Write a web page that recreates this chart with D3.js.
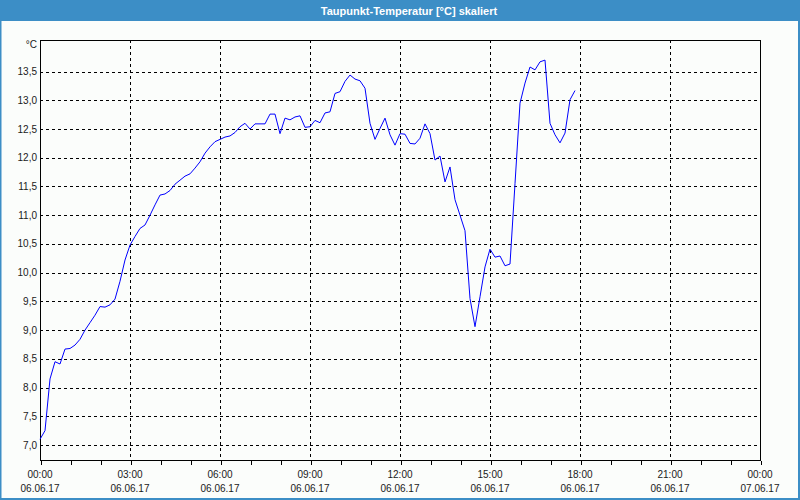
<!DOCTYPE html>
<html>
<head>
<meta charset="utf-8">
<script src="https://cdn.jsdelivr.net/npm/d3@7"></script>
<style>
  html, body { margin: 0; padding: 0; background: #fbfdfb; }
  svg { display: block; }
  text { font-family: "Liberation Sans", Arial, sans-serif; }
</style>
</head>
<body>
<svg id="chart" width="800" height="500"></svg>
<script>
// ---- data ----
const title = "Taupunkt-Temperatur [°C] skaliert";
const unitLabel = "°C";
const startTime = "2017-06-06T00:00:00Z";
const endTime = "2017-06-07T00:00:00Z";
const intervalMinutes = 10;
// dew point values, one every 10 minutes from 00:00
const dewPoint = [
  7.10, 7.25, 8.15, 8.45, 8.41, 8.67, 8.68, 8.74, 8.84, 9.00,
  9.13, 9.26, 9.41, 9.40, 9.44, 9.54, 9.85, 10.22, 10.48, 10.63,
  10.77, 10.83, 11.00, 11.18, 11.35, 11.37, 11.43, 11.54, 11.61, 11.68,
  11.72, 11.82, 11.93, 12.08, 12.19, 12.28, 12.32, 12.36, 12.38, 12.44,
  12.54, 12.60, 12.50, 12.59, 12.59, 12.59, 12.76, 12.76, 12.42, 12.69,
  12.66, 12.71, 12.73, 12.53, 12.54, 12.65, 12.61, 12.78, 12.80, 13.12,
  13.15, 13.33, 13.44, 13.37, 13.34, 13.21, 12.60, 12.32, 12.51, 12.69,
  12.40, 12.22, 12.42, 12.41, 12.25, 12.24, 12.34, 12.59, 12.42, 11.96,
  12.03, 11.58, 11.84, 11.27, 11.00, 10.73, 9.55, 9.06, 9.58, 10.10,
  10.41, 10.27, 10.29, 10.12, 10.15, 11.55, 12.95, 13.30, 13.58, 13.53,
  13.67, 13.70, 12.60, 12.40, 12.26, 12.43, 13.01, 13.17
];
const yTicks = [7.0, 7.5, 8.0, 8.5, 9.0, 9.5, 10.0, 10.5, 11.0, 11.5, 12.0, 12.5, 13.0, 13.5];
const yDomain = [6.739, 14.05];

// ---- layout ----
const svg = d3.select("#chart");
const W = 800, H = 500;
const plot = { left: 40, top: 40, right: 760, bottom: 460 };
const barColor = "#3c8ec6";

svg.append("rect").attr("x", 0).attr("y", 0).attr("width", W).attr("height", H).attr("fill", "#fbfdfb");
// frame borders
svg.append("rect").attr("x", 0).attr("y", 0).attr("width", W).attr("height", 21).attr("fill", barColor);
svg.append("rect").attr("x", 0).attr("y", 0).attr("width", 1.5).attr("height", H).attr("fill", barColor);
svg.append("rect").attr("x", 798).attr("y", 0).attr("width", 2).attr("height", H).attr("fill", barColor);
svg.append("rect").attr("x", 0).attr("y", 498).attr("width", W).attr("height", 2).attr("fill", barColor);

svg.append("text").attr("x", 409).attr("y", 14.5).attr("text-anchor", "middle")
  .attr("fill", "#ffffff").attr("font-weight", "bold").attr("font-size", "11px").text(title);

const parse = d3.isoParse;
const t0 = parse(startTime);
const data = dewPoint.map((v, i) => ({ t: new Date(t0.getTime() + i * intervalMinutes * 60000), v }));

const x = d3.scaleUtc().domain([parse(startTime), parse(endTime)]).range([plot.left, plot.right]);
const y = d3.scaleLinear().domain(yDomain).range([plot.bottom, plot.top]);

// grid
const gGrid = svg.append("g").attr("stroke", "#000").attr("stroke-width", 1)
  .attr("stroke-dasharray", "3,3").attr("shape-rendering", "crispEdges");
yTicks.forEach(v => {
  const yy = Math.round(y(v)) + 0.5;
  gGrid.append("line").attr("x1", plot.left).attr("x2", plot.right).attr("y1", yy).attr("y2", yy);
});
const majorTicks = x.ticks(d3.utcHour.every(3));
majorTicks.forEach(d => {
  const xx = Math.round(x(d)) + 0.5;
  if (xx > plot.left + 1 && xx < plot.right - 1)
    gGrid.append("line").attr("x1", xx).attr("x2", xx).attr("y1", plot.top).attr("y2", plot.bottom);
});

// frame
svg.append("rect").attr("x", plot.left + 0.5).attr("y", plot.top + 0.5)
  .attr("width", plot.right - plot.left).attr("height", plot.bottom - plot.top)
  .attr("fill", "none").attr("stroke", "#000").attr("stroke-width", 1).attr("shape-rendering", "crispEdges");

// x axis
const fmtTime = d3.utcFormat("%H:%M");
const fmtDate = d3.utcFormat("%d.%m.%y");
const xAxis = d3.axisBottom(x).ticks(d3.utcHour.every(1)).tickSize(4).tickFormat("");
const gx = svg.append("g").attr("transform", `translate(0.5,${plot.bottom + 0.5})`).call(xAxis);
gx.select(".domain").remove();
gx.selectAll(".tick line").attr("stroke", "#000").attr("shape-rendering", "crispEdges");
const gxl = svg.append("g").attr("font-size", "10px").attr("fill", "#1a1a1a").attr("text-anchor", "middle");
majorTicks.forEach(d => {
  gxl.append("text").attr("x", x(d)).attr("y", 477.5).text(fmtTime(d));
  gxl.append("text").attr("x", x(d)).attr("y", 492).text(fmtDate(d));
});

// y labels
const fmtY = v => d3.format(".1f")(v).replace(".", ",");
const gyl = svg.append("g").attr("font-size", "10px").attr("fill", "#1a1a1a").attr("text-anchor", "end");
yTicks.forEach(v => {
  gyl.append("text").attr("x", 37).attr("y", y(v) + 3.5).text(fmtY(v));
});
gyl.append("text").attr("x", 37).attr("y", 47.5).text(unitLabel);

// line
const line = d3.line().x(d => x(d.t)).y(d => y(d.v));
svg.append("path").datum(data).attr("d", line).attr("fill", "none")
  .attr("stroke", "#0000ff").attr("stroke-width", 1);
</script>
</body>
</html>
